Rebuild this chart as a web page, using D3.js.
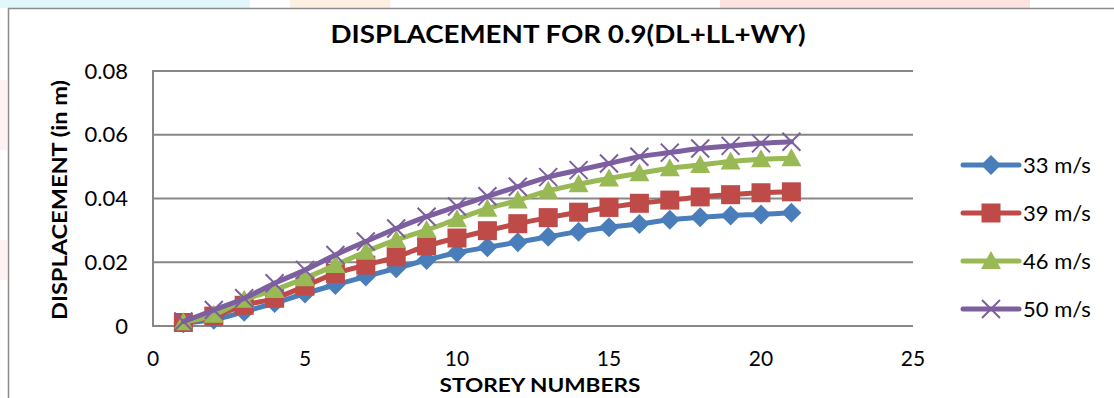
<!DOCTYPE html>
<html>
<head>
<meta charset="utf-8">
<script src="https://cdn.jsdelivr.net/npm/d3@7"></script>
<style>
  body { margin: 0; background: #fff; }
  text { font-family: Lato, "Open Sans", sans-serif; fill: #000; }
</style>
</head>
<body>
<svg id="canvas" width="1114" height="398"></svg>
<script>
(function () {

    // Data.
    const storeys = [1, 2, 3, 4, 5, 6, 7, 8, 9, 10, 11, 12, 13, 14, 15, 16, 17, 18, 19, 20, 21];
    const disp33 = [0.0009, 0.0020, 0.0045, 0.0072, 0.0102, 0.0129, 0.0155, 0.0181, 0.0207, 0.0230, 0.0247,
                    0.0263, 0.0280, 0.0296, 0.0310, 0.0320, 0.0333, 0.0341, 0.0347, 0.0350, 0.0355];
    const disp39 = [0.0011, 0.0031, 0.0065, 0.0087, 0.0125, 0.0165, 0.0191, 0.0217, 0.0251, 0.0276, 0.0299,
                    0.0321, 0.0340, 0.0357, 0.0372, 0.0385, 0.0395, 0.0405, 0.0412, 0.0418, 0.0421];
    const disp46 = [0.0012, 0.0035, 0.0082, 0.0113, 0.0150, 0.0191, 0.0233, 0.0270, 0.0301, 0.0335, 0.0368,
                    0.0394, 0.0424, 0.0445, 0.0463, 0.0479, 0.0495, 0.0505, 0.0516, 0.0523, 0.0526];
    const disp50 = [0.0014, 0.0050, 0.0087, 0.0134, 0.0176, 0.0223, 0.0265, 0.0306, 0.0343, 0.0375, 0.0407,
                    0.0437, 0.0467, 0.0489, 0.0510, 0.0531, 0.0544, 0.0557, 0.0565, 0.0573, 0.0578];
    const seriesNames = ["33 m/s", "39 m/s", "46 m/s", "50 m/s"];
    const xTicks = [0, 5, 10, 15, 20, 25];
    const yTicks = [0, 0.02, 0.04, 0.06, 0.08];

    const COLORS = ["#4a7ebb", "#be4b48", "#98b954", "#7d5fa0"];
    const SHAPES = ["diamond", "square", "triangle", "cross"];

    let svg = d3.select("#canvas");
    let plot = { left: 153, right: 913, top: 71, bottom: 326 };

    let xScale = d3.scaleLinear().domain([0, 25]).range([plot.left, plot.right]);
    let yScale = d3.scaleLinear().domain([0, 0.08]).range([plot.bottom, plot.top]);

    // Faint page background behind the chart frame.
    let bg = svg.append("g");
    bg.append("rect").attr("x", 0).attr("y", 0).attr("width", 250).attr("height", 8).attr("fill", "#e2f6fb");
    bg.append("rect").attr("x", 290).attr("y", 0).attr("width", 100).attr("height", 8).attr("fill", "#fdf0e3");
    bg.append("rect").attr("x", 720).attr("y", 0).attr("width", 310).attr("height", 8).attr("fill", "#fde3df");
    bg.append("rect").attr("x", 0).attr("y", 80).attr("width", 7).attr("height", 70).attr("fill", "#fdf1f1");
    bg.append("rect").attr("x", 0).attr("y", 240).attr("width", 7).attr("height", 40).attr("fill", "#fdf1f1");

    // Chart frame.
    svg.append("rect")
        .attr("x", 8.5).attr("y", 8.5)
        .attr("width", 1120).attr("height", 400)
        .attr("fill", "#fff")
        .attr("stroke", "#8c8c8c")
        .attr("stroke-width", 1.5);

    // Gridlines.
    svg.append("g")
        .selectAll("line")
        .data(yTicks)
        .join("line")
        .attr("x1", plot.left).attr("x2", plot.right)
        .attr("y1", d => yScale(d)).attr("y2", d => yScale(d))
        .attr("stroke", "#878787")
        .attr("stroke-width", 2);

    // Y axis line.
    svg.append("line")
        .attr("x1", plot.left).attr("x2", plot.left)
        .attr("y1", plot.top - 1).attr("y2", plot.bottom + 1)
        .attr("stroke", "#878787")
        .attr("stroke-width", 2);

    // Tick labels.
    svg.append("g")
        .selectAll("text")
        .data(yTicks)
        .join("text")
        .attr("x", 128)
        .attr("y", d => yScale(d))
        .attr("dy", "0.35em")
        .attr("text-anchor", "end")
        .attr("font-size", 22)
        .text(d => d === 0 ? "0" : d3.format(".2f")(d));

    svg.append("g")
        .selectAll("text")
        .data(xTicks)
        .join("text")
        .attr("x", d => xScale(d))
        .attr("y", 359)
        .attr("dy", "0.35em")
        .attr("text-anchor", "middle")
        .attr("font-size", 21)
        .text(d => d);

    // Titles.
    svg.append("text")
        .attr("x", 568).attr("y", 34).attr("dy", "0.35em")
        .attr("text-anchor", "middle")
        .attr("font-size", 25).attr("font-weight", "bold")
        .attr("textLength", 475).attr("lengthAdjust", "spacingAndGlyphs")
        .text("DISPLACEMENT FOR 0.9(DL+LL+WY)");

    svg.append("text")
        .attr("x", 540).attr("y", 385).attr("dy", "0.35em")
        .attr("text-anchor", "middle")
        .attr("font-size", 19).attr("font-weight", "bold")
        .attr("textLength", 201).attr("lengthAdjust", "spacingAndGlyphs")
        .text("STOREY NUMBERS");

    svg.append("text")
        .attr("transform", "translate(60, 200) rotate(-90)")
        .attr("dy", "0.35em")
        .attr("text-anchor", "middle")
        .attr("font-size", 20).attr("font-weight", "bold")
        .attr("textLength", 240).attr("lengthAdjust", "spacingAndGlyphs")
        .text("DISPLACEMENT (in m)");

    // Marker drawing.
    function marker(g, shape, color, x, y) {
        if (shape === "diamond") {
            g.append("path")
                .attr("d", `M${x},${y - 10}L${x + 10},${y}L${x},${y + 10}L${x - 10},${y}Z`)
                .attr("fill", color);
        } else if (shape === "square") {
            g.append("rect")
                .attr("x", x - 9.5).attr("y", y - 9.5)
                .attr("width", 19).attr("height", 19)
                .attr("fill", color);
        } else if (shape === "triangle") {
            g.append("path")
                .attr("d", `M${x},${y - 10}L${x + 10},${y + 8}L${x - 10},${y + 8}Z`)
                .attr("fill", color);
        } else {
            g.append("path")
                .attr("d", `M${x - 9},${y - 9}L${x + 9},${y + 9}M${x + 9},${y - 9}L${x - 9},${y + 9}`)
                .attr("stroke", color)
                .attr("stroke-width", 2);
        }
    }

    let line = d3.line()
        .x(d => xScale(d.x))
        .y(d => yScale(d.y))
        .curve(d3.curveCatmullRom.alpha(0.5));

    let allSeries = [disp33, disp39, disp46, disp50];

    allSeries.forEach(function (values, i) {
        let data = storeys.map((s, j) => ({ x: s, y: values[j] }));
        let g = svg.append("g");
        g.append("path")
            .datum(data)
            .attr("fill", "none")
            .attr("stroke", COLORS[i])
            .attr("stroke-width", 5)
            .attr("stroke-linecap", "round")
            .attr("d", line);
        data.forEach(d => marker(g, SHAPES[i], COLORS[i], xScale(d.x), yScale(d.y)));
    });

    // Legend.
    let legendY = [165, 213, 261, 309];
    seriesNames.forEach(function (name, i) {
        let g = svg.append("g");
        g.append("line")
            .attr("x1", 963).attr("x2", 1019)
            .attr("y1", legendY[i]).attr("y2", legendY[i])
            .attr("stroke", COLORS[i])
            .attr("stroke-width", 5)
            .attr("stroke-linecap", "round");
        marker(g, SHAPES[i], COLORS[i], 991, legendY[i]);
        g.append("text")
            .attr("x", 1023).attr("y", legendY[i]).attr("dy", "0.35em")
            .attr("font-size", 22)
            .text(name);
    });

})();
</script>
</body>
</html>
